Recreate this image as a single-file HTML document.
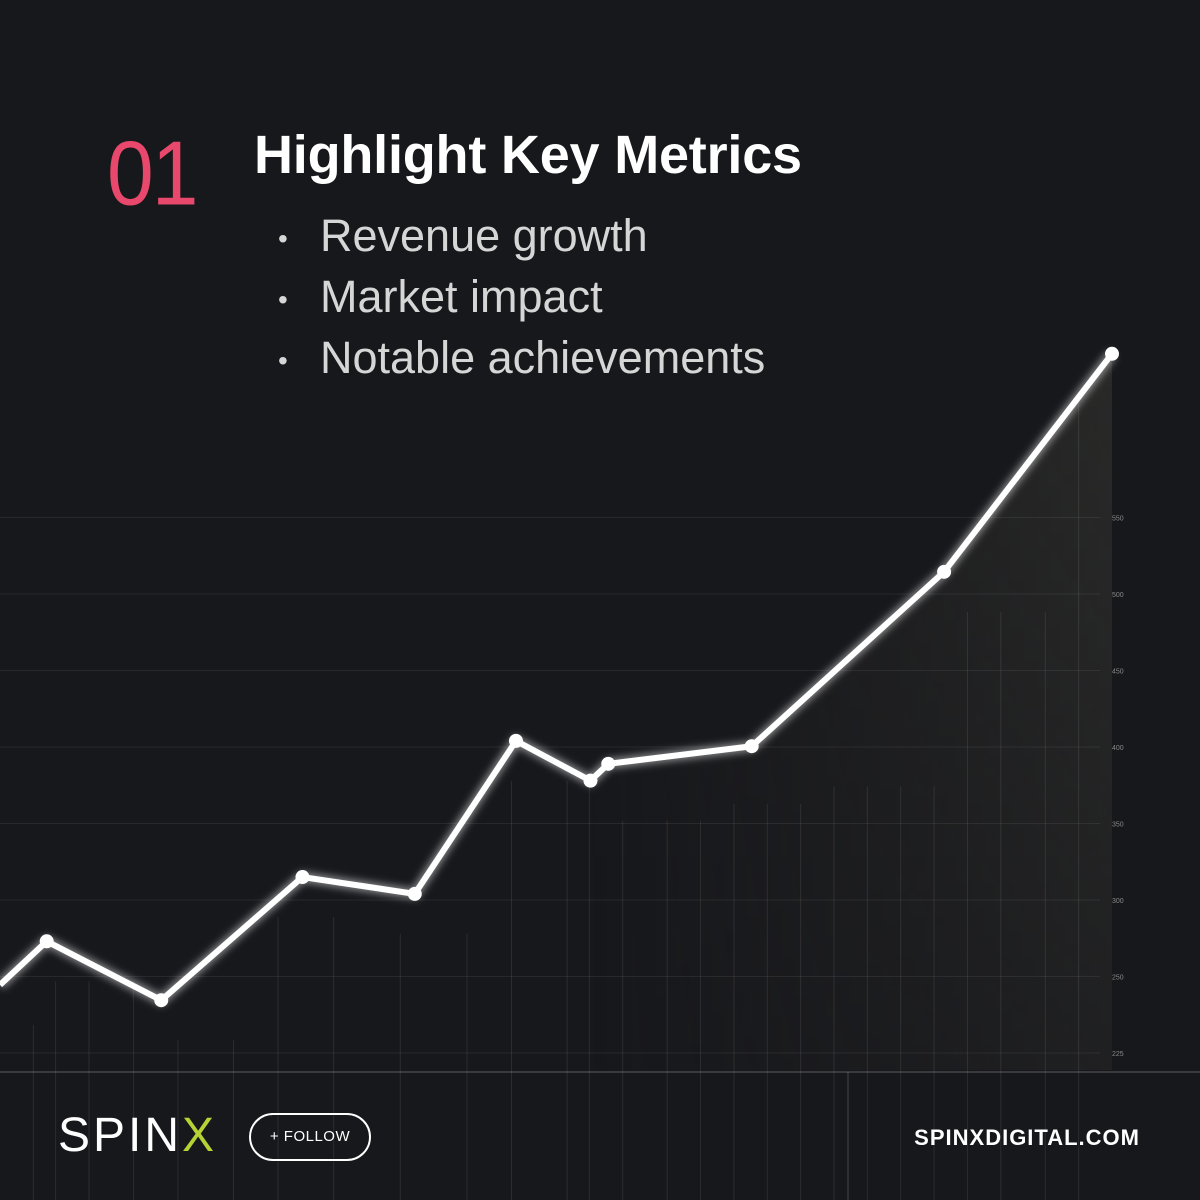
<!DOCTYPE html>
<html><head><meta charset="utf-8">
<style>
html,body{margin:0;padding:0;background:#17181c;}
#root{position:relative;width:1200px;height:1200px;overflow:hidden;background:#17181c;font-family:"Liberation Sans",sans-serif;}
svg{position:absolute;left:0;top:0;}
.num{position:absolute;left:107px;top:128px;font-size:84px;color:#e8486b;font-weight:300;letter-spacing:-2px;line-height:1;transform:scaleY(1.08);transform-origin:top left;}
.title{position:absolute;left:254px;top:128px;font-size:54px;font-weight:700;color:#fff;line-height:1;letter-spacing:-0.2px;}
.bullets{position:absolute;left:278px;top:207px;font-size:45px;color:#d6d6d6;line-height:58px;}
.bullets div span{display:inline-block;width:42px;font-size:28px;vertical-align:middle;}
.logo{position:absolute;left:58px;top:1112px;font-size:48px;color:#fff;letter-spacing:3px;line-height:1;font-weight:300;}
.follow{position:absolute;left:249px;top:1113px;width:118px;height:44px;border:2px solid #fff;border-radius:24px;color:#fff;font-size:15px;text-align:center;line-height:44px;letter-spacing:0.5px;}
.site{position:absolute;right:60px;top:1125px;font-size:22px;color:#fff;font-weight:700;letter-spacing:1px;}
</style></head><body>
<div id="root">
<svg id="chart" width="1200" height="1200"></svg>
<div class="num">01</div>
<div class="title">Highlight Key Metrics</div>
<div class="bullets">
<div><span>•</span>Revenue growth</div>
<div><span>•</span>Market impact</div>
<div><span>•</span>Notable achievements</div>
</div>
<div class="logo">SPIN<span style="color:#b5d334">X</span></div>
<div class="follow">+ FOLLOW</div>
<div class="site">SPINXDIGITAL.COM</div>
</div>
<script>
const periods=[0,4.2,14.5,27.2,37.3,46.4,53.1,54.7,67.6,84.9,100];
const values=[89,146,69,230,208,408,356,378,401,629,914];
const tickValues=[0,100,200,300,400,500,600,700];
const tickLabels=["225","250","300","350","400","450","500","550"];
const gridPeriods=[3,5,8,12,16,21,25,30,36,42,46,51,53,56,60,63,66,69,72,75,78,81,84,87,90,94,97];

const NS="http://www.w3.org/2000/svg";
const svg=document.getElementById('chart');
const X=t=>t*11.12;
const Y=v=>1053-v*0.765;
function mk(tag,attrs){const e=document.createElementNS(NS,tag);for(const k in attrs)e.setAttribute(k,attrs[k]);svg.appendChild(e);return e;}

const defs=mk('defs',{});
defs.innerHTML='<linearGradient id="fillg" x1="0" y1="0" x2="1" y2="0"><stop offset="0" stop-color="#2a2926" stop-opacity="0"/><stop offset="0.5" stop-color="#2a2927" stop-opacity="0.55"/><stop offset="1" stop-color="#353430" stop-opacity="0.8"/></linearGradient><linearGradient id="fadev" x1="0" y1="0" x2="0" y2="1"><stop offset="0" stop-color="#fff" stop-opacity="1"/><stop offset="1" stop-color="#fff" stop-opacity="0.3"/></linearGradient><mask id="m"><rect width="1200" height="1200" fill="url(#fadev)"/></mask><filter id="glow"><feGaussianBlur stdDeviation="4"/></filter>';

let d='M'+X(periods[6])+' 1070';
for(let i=6;i<periods.length;i++)d+=' L'+X(periods[i])+' '+Y(values[i]);
d+=' L'+X(periods[periods.length-1])+' 1070 Z';
const area=mk('path',{d:d,fill:'url(#fillg)',mask:'url(#m)'});



gridPeriods.forEach((g,i)=>{
  const gl=mk('line',{x1:X(g),x2:X(g),y1:Y(values[Math.min(values.length-1,Math.round(g/10))])+40,y2:1200,stroke:'#ffffff',"stroke-opacity":0.09,"stroke-width":1});
  
  
});
tickValues.forEach((v,i)=>{
  const hl=mk('line',{x1:0,x2:1100,y1:Y(v),y2:Y(v),stroke:'#ffffff',"stroke-opacity":0.07});
  
  
  const t=mk('text',{x:1112,y:Y(v)+3,fill:'#888',"font-size":7,"font-family":"Liberation Sans"});
  t.textContent=tickLabels[i];
  
  
});
const sep=mk('line',{x1:0,x2:1200,y1:1072,y2:1072,stroke:'#fff',"stroke-opacity":0.3});


const sep2=mk('line',{x1:848,x2:848,y1:1072,y2:1200,stroke:'#fff',"stroke-opacity":0.2});



const pts=periods.map((p,i)=>X(p)+','+Y(values[i])).join(' ');
const glow=mk('polyline',{points:pts,fill:'none',stroke:'#fff',"stroke-opacity":0.5,"stroke-width":10,filter:'url(#glow)'});


const line=mk('polyline',{points:pts,fill:'none',stroke:'#fff',"stroke-width":6,"stroke-linejoin":"round"});


periods.forEach((p,i)=>{
  if(i===0)return;
  const c=mk('circle',{cx:X(p),cy:Y(values[i]),r:7,fill:'#fff'});
  
  
});
</script>
</body></html>
